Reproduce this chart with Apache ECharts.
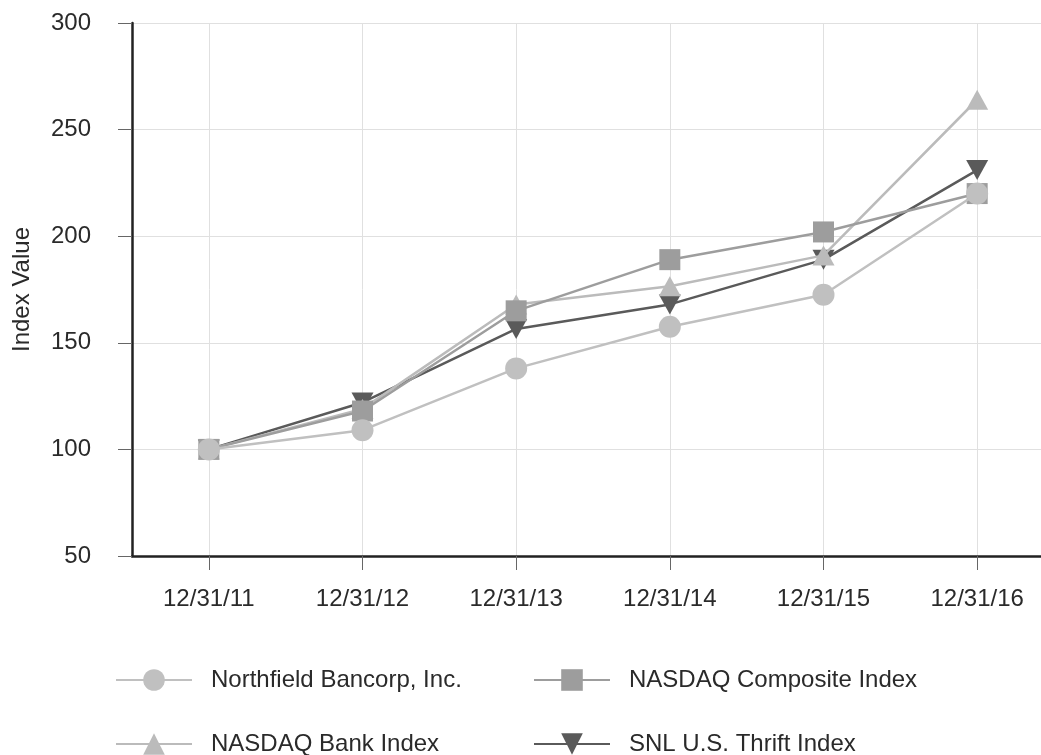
<!DOCTYPE html>
<html>
<head>
<meta charset="utf-8">
<script src="https://cdn.jsdelivr.net/npm/echarts@6/dist/echarts.min.js"></script>
<style>
  html, body { margin: 0; padding: 0; background: #fff; overflow: hidden; }
  /* 图区右侧在原图中被裁掉一截，所以画布比窗口宽 */
  #chart { width: 1054px; height: 755px; }
</style>
</head>
<body>
<div id="chart"></div>
<script>
// 数据
const categories = ['12/31/11', '12/31/12', '12/31/13', '12/31/14', '12/31/15', '12/31/16'];
const northfield = [100, 109, 138, 157.5, 172.5, 220];
const nasdaqComposite = [100, 118, 165, 189, 202, 220];
const nasdaqBank = [100, 119, 168, 176.5, 191, 264];
const snlThrift = [100, 122, 156.5, 168, 189, 231];

const fontFamily = '"Liberation Sans", Arial, sans-serif';

function makeSeries(name, data, color, symbol, size, rotate, z) {
    return {
        name: name,
        type: 'line',
        data: data,
        symbol: symbol,
        symbolSize: size,
        symbolRotate: rotate,
        z: z,
        lineStyle: { color: color, width: 2.5 },
        itemStyle: { color: color },
        emphasis: { disabled: true },
        animation: false
    };
}

// 每个图例单独放一个，手动定位成两行两列
function makeLegend(name, left, top) {
    return {
        left: left,
        top: top,
        itemWidth: 76,
        itemHeight: 27,
        selectedMode: false,
        data: [name],
        textStyle: {
            fontFamily: fontFamily,
            fontSize: 24,
            color: '#2a2a2a',
            padding: [0, 0, 0, 14]
        }
    };
}

const option = {
    backgroundColor: '#fff',
    animation: false,
    grid: {
        left: 132,
        top: 23,
        bottom: 199,
        right: 0,
        containLabel: false
    },
    legend: [
        makeLegend('Northfield Bancorp, Inc.', 110, 663),
        makeLegend('NASDAQ Composite Index', 528, 663),
        makeLegend('NASDAQ Bank Index', 110, 727),
        makeLegend('SNL U.S. Thrift Index', 528, 727)
    ],
    xAxis: {
        type: 'category',
        data: categories,
        boundaryGap: true,
        axisLine: { show: true, lineStyle: { color: '#222', width: 2.5 } },
        axisTick: {
            show: true,
            alignWithLabel: true,
            length: 14,
            lineStyle: { color: '#666', width: 1 }
        },
        splitLine: {
            show: true,
            alignWithLabel: true,
            lineStyle: { color: '#e0e0e0', width: 1 }
        },
        axisLabel: {
            margin: 31,
            fontFamily: fontFamily,
            fontSize: 24,
            color: '#2a2a2a'
        }
    },
    yAxis: {
        type: 'value',
        min: 50,
        max: 300,
        interval: 50,
        name: 'Index Value',
        nameLocation: 'middle',
        nameGap: 98,
        nameTextStyle: {
            fontFamily: fontFamily,
            fontSize: 24,
            color: '#2a2a2a'
        },
        axisLine: { show: true, lineStyle: { color: '#222', width: 2.5 } },
        axisTick: {
            show: true,
            length: 14,
            lineStyle: { color: '#666', width: 1 }
        },
        splitLine: { show: true, lineStyle: { color: '#e0e0e0', width: 1 } },
        axisLabel: {
            margin: 41,
            fontFamily: fontFamily,
            fontSize: 24,
            color: '#2a2a2a'
        }
    },
    series: [
        makeSeries('SNL U.S. Thrift Index', snlThrift, '#5a5a5a', 'triangle', [22, 20], 180, 2),
        makeSeries('NASDAQ Bank Index', nasdaqBank, '#bbbbbb', 'triangle', [22, 20], 0, 3),
        makeSeries('NASDAQ Composite Index', nasdaqComposite, '#9d9d9d', 'rect', 21, 0, 4),
        makeSeries('Northfield Bancorp, Inc.', northfield, '#c0c0c0', 'circle', 22, 0, 5)
    ]
};

const chart = echarts.init(document.getElementById('chart'));
chart.setOption(option);
</script>
</body>
</html>
